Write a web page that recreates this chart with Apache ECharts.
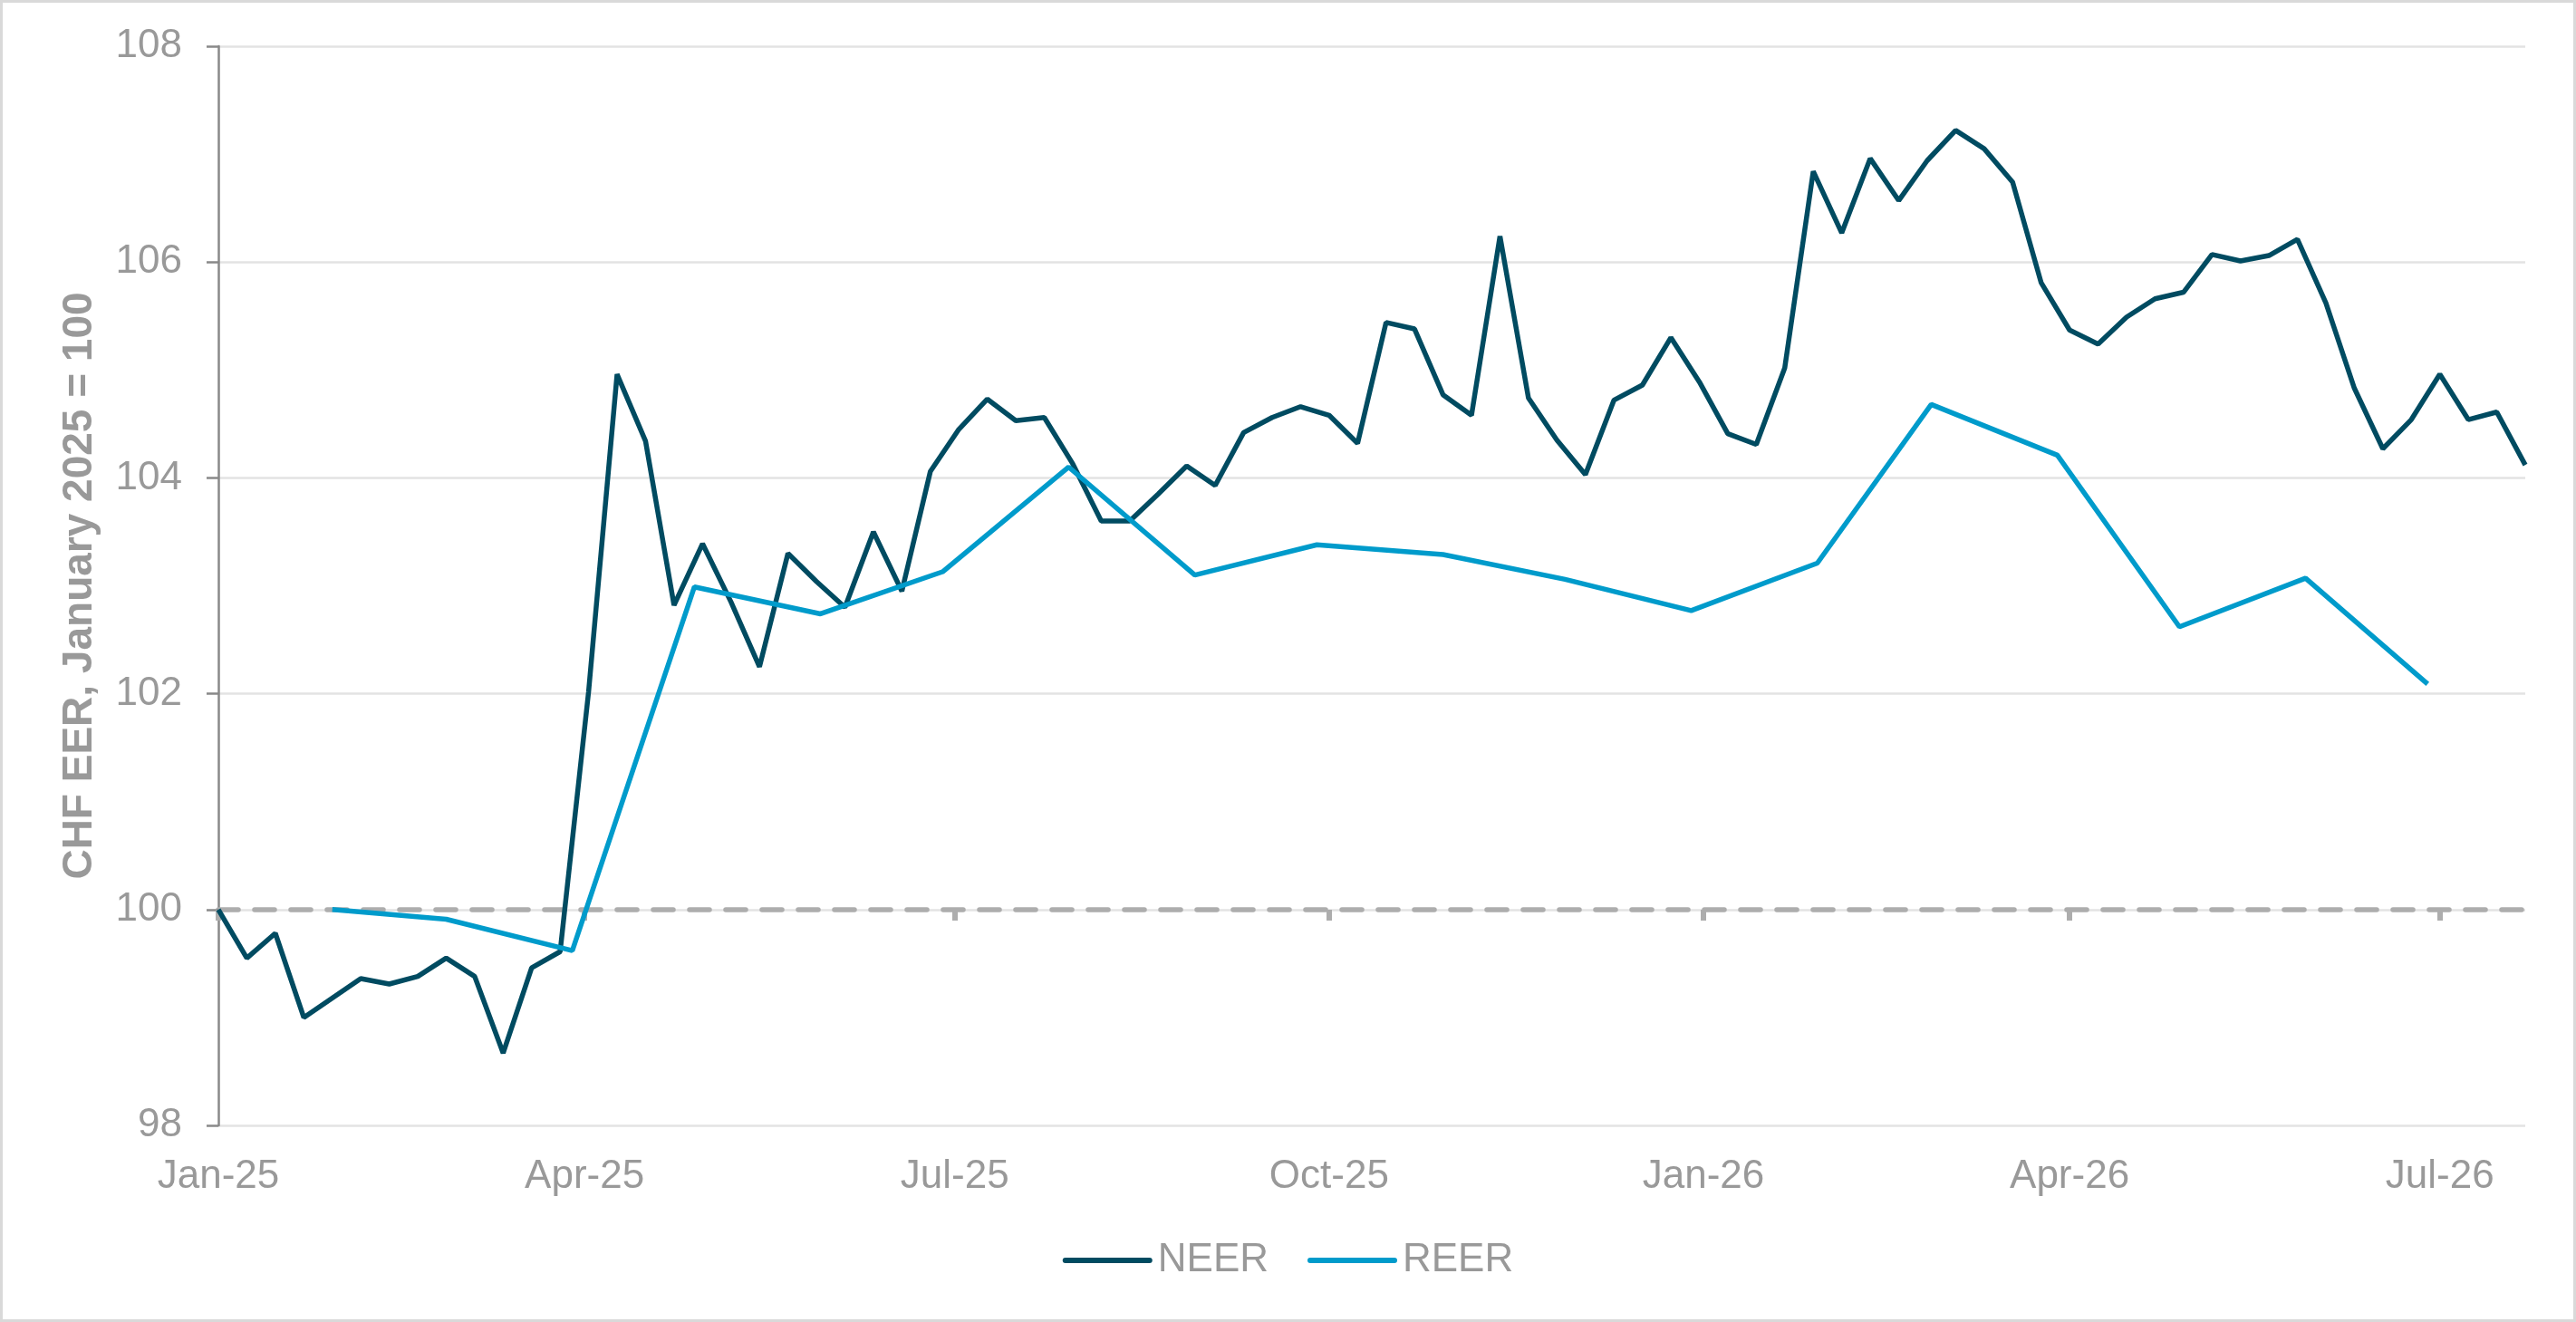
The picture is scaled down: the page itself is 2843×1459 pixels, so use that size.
<!DOCTYPE html>
<html>
<head>
<meta charset="utf-8">
<title>CHF EER</title>
<script src="https://cdn.jsdelivr.net/npm/echarts@6/dist/echarts.min.js"></script>
<style>
  html, body { margin: 0; padding: 0; background: #fff; }
  #chart { width: 2843px; height: 1459px; }
  #frame { position: absolute; left: 0; top: 0; width: 2843px; height: 1459px; box-sizing: border-box; border: 3px solid #d9d9d9; pointer-events: none; }
</style>
</head>
<body>
<div id="chart"></div>
<div id="frame"></div>
<script>
'use strict';
/* CHF effective exchange rates, January 2025 = 100 */

// weekly NEER readings (Fridays), first one on 3 Jan 2025
var neerStart = '2025-01-03';
var neerValues = [
  100.00, 99.55, 99.78, 99.00, 99.18, 99.36, 99.31, 99.38, 99.55, 99.38,
  98.67, 99.46, 99.61, 102.02, 104.96, 104.34, 102.82, 103.39, 102.85, 102.25,
  103.30, 103.04, 102.80, 103.50, 102.95, 104.06, 104.45, 104.73, 104.53, 104.56,
  104.13, 103.60, 103.60, 103.85, 104.11, 103.93, 104.42, 104.56, 104.66, 104.58,
  104.32, 105.44, 105.38, 104.77, 104.58, 106.24, 104.74, 104.35, 104.03, 104.72,
  104.86, 105.30, 104.89, 104.41, 104.31, 105.02, 106.84, 106.27, 106.96, 106.57,
  106.94, 107.22, 107.05, 106.74, 105.81, 105.37, 105.24, 105.49, 105.66, 105.72,
  106.07, 106.01, 106.06, 106.21, 105.62, 104.83, 104.27, 104.54, 104.96, 104.54,
  104.61, 104.12
];

// monthly REER readings (month ends)
var reerDates = [
  '2025-01-31', '2025-02-28', '2025-03-31', '2025-04-30', '2025-05-31', '2025-06-30',
  '2025-07-31', '2025-08-31', '2025-09-30', '2025-10-31', '2025-11-30', '2025-12-31',
  '2026-01-31', '2026-02-28', '2026-03-31', '2026-04-30', '2026-05-31', '2026-06-30'
];
var reerValues = [
  100.00, 99.91, 99.62, 102.99, 102.74, 103.13,
  104.10, 103.10, 103.38, 103.29, 103.06, 102.77,
  103.21, 104.68, 104.21, 102.62, 103.07, 102.09
];

var tickDates = ['2025-01-03', '2025-04-03', '2025-07-03', '2025-10-03', '2026-01-03', '2026-04-03', '2026-07-03'];
var axisStart = '2025-01-03';
var axisEnd = '2026-07-24';
var monthNames = ['Jan', 'Feb', 'Mar', 'Apr', 'May', 'Jun', 'Jul', 'Aug', 'Sep', 'Oct', 'Nov', 'Dec'];

function toTime(s) {
  var p = s.split('-');
  return new Date(+p[0], +p[1] - 1, +p[2]).getTime();
}

var neerData = [];
for (var i = 0; i < neerValues.length; i++) {
  var d = new Date(toTime(neerStart));
  d.setDate(d.getDate() + 7 * i);
  neerData.push([d.getTime(), neerValues[i]]);
}
var reerData = [];
for (var j = 0; j < reerValues.length; j++) {
  reerData.push([toTime(reerDates[j]), reerValues[j]]);
}
var ticks = tickDates.map(toTime);

var grey = '#999999';
var font = 'Liberation Sans, Arial, sans-serif';

var chart = echarts.init(document.getElementById('chart'), null, { renderer: 'canvas' });
var option = {
  backgroundColor: '#ffffff',
  animation: false,
  grid: [
    { left: 241, right: 56, top: 51, bottom: 217 },
    // overlay grid whose bottom edge sits on the 100 line: carries the dashed x axis
    { left: 241, right: 56, top: 51, bottom: 455 }
  ],
  legend: {
    data: ['NEER', 'REER'],
    left: 'center',
    top: 1364,
    itemWidth: 93,
    itemHeight: 6,
    itemGap: 43,
    textStyle: { color: grey, fontSize: 44, fontFamily: font, padding: [0, 0, 0, 4] },
    lineStyle: { width: 6, cap: 'round' }
  },
  xAxis: [{
    gridIndex: 0,
    type: 'value',
    min: toTime(axisStart),
    max: toTime(axisEnd),
    axisLine: { show: false },
    axisTick: { show: false },
    splitLine: { show: false },
    axisLabel: {
      customValues: ticks,
      color: grey,
      fontSize: 44,
      fontFamily: font,
      margin: 35,
      formatter: function(val) {
        var d = new Date(val);
        return monthNames[d.getMonth()] + '-' + String(d.getFullYear()).slice(2);
      }
    }
  }, {
    gridIndex: 1,
    type: 'value',
    min: toTime(axisStart),
    max: toTime(axisEnd),
    axisLine: { show: true, lineStyle: { color: '#adadad', width: 5.5, type: [22, 18] } },
    axisTick: { show: true, customValues: ticks, length: 12, lineStyle: { color: '#adadad', width: 6 } },
    axisLabel: { show: false },
    splitLine: { show: false }
  }],
  yAxis: [{
    gridIndex: 0,
    type: 'value',
    min: 98,
    max: 108,
    interval: 2,
    name: 'CHF EER, January 2025 = 100',
    nameLocation: 'middle',
    nameGap: 130,
    nameTextStyle: { color: grey, fontSize: 46, fontWeight: 'bold', fontFamily: font },
    axisLine: { show: true, lineStyle: { color: '#898989', width: 2.5 } },
    axisTick: { show: true, length: 13, lineStyle: { color: '#898989', width: 2.5 } },
    splitLine: { show: true, lineStyle: { color: '#e3e3e3', width: 2.5 } },
    axisLabel: { color: grey, fontSize: 44, fontFamily: font, margin: 40 }
  }, {
    gridIndex: 1,
    type: 'value',
    min: 0,
    max: 1,
    show: false
  }],
  series: [{
    name: 'NEER',
    type: 'line',
    xAxisIndex: 0,
    yAxisIndex: 0,
    data: neerData,
    symbol: 'none',
    color: '#004b61',
    lineStyle: { width: 5.5, color: '#004b61' }
  }, {
    name: 'REER',
    type: 'line',
    xAxisIndex: 0,
    yAxisIndex: 0,
    data: reerData,
    symbol: 'none',
    color: '#009bcb',
    lineStyle: { width: 5.5, color: '#009bcb' }
  }]
};
chart.setOption(option);
</script>
</body>
</html>
